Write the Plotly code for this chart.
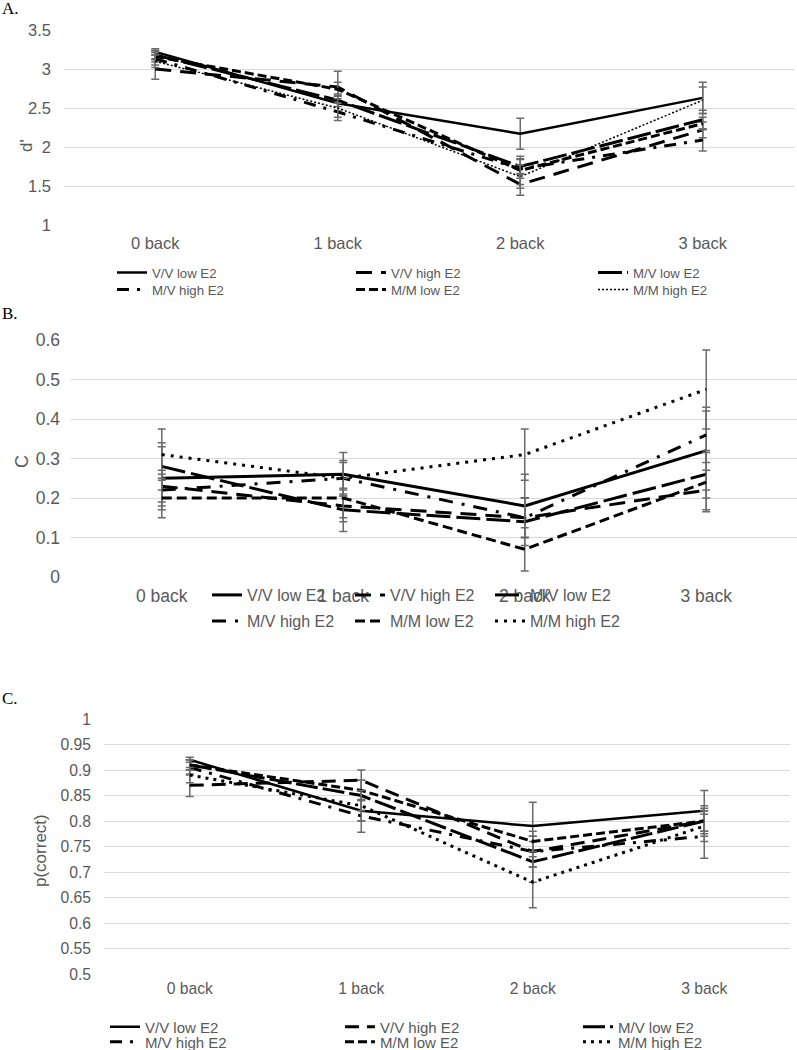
import plotly.graph_objects as go

categories = ["0 back", "1 back", "2 back", "3 back"]
series_names = ["V/V low E2", "V/V high E2", "M/V low E2",
                "M/V high E2", "M/M low E2", "M/M high E2"]

# Panel A: d'
dp_vv_low = [3.22, 2.56, 2.17, 2.63]
dp_vv_high = [3.00, 2.77, 1.52, 2.22]
dp_mv_low = [3.18, 2.60, 1.75, 2.35]
dp_mv_high = [3.13, 2.45, 1.72, 2.09]
dp_mm_low = [3.16, 2.74, 1.70, 2.30]
dp_mm_high = [3.10, 2.50, 1.62, 2.60]
dp_err_vv_low = [0.04, 0.10, 0.20, 0.20]
dp_err_vv_high = [0.13, 0.20, 0.14, 0.10]
dp_err_mv_low = [0.06, 0.08, 0.10, 0.12]
dp_err_mv_high = [0.08, 0.11, 0.12, 0.14]
dp_err_mm_low = [0.07, 0.09, 0.18, 0.08]
dp_err_mm_high = [0.08, 0.12, 0.15, 0.17]

# Panel B: C
c_vv_low = [0.25, 0.26, 0.18, 0.32]
c_vv_high = [0.23, 0.18, 0.15, 0.22]
c_mv_low = [0.28, 0.17, 0.14, 0.26]
c_mv_high = [0.22, 0.25, 0.15, 0.36]
c_mm_low = [0.20, 0.20, 0.07, 0.24]
c_mm_high = [0.31, 0.25, 0.31, 0.475]
c_err_vv_low = [0.08, 0.055, 0.08, 0.10]
c_err_vv_high = [0.04, 0.04, 0.05, 0.05]
c_err_mv_low = [0.06, 0.055, 0.06, 0.06]
c_err_mv_high = [0.04, 0.04, 0.05, 0.07]
c_err_mm_low = [0.05, 0.05, 0.055, 0.075]
c_err_mm_high = [0.065, 0.045, 0.065, 0.10]

# Panel C: p(correct)
p_vv_low = [0.92, 0.82, 0.79, 0.82]
p_vv_high = [0.87, 0.88, 0.74, 0.80]
p_mv_low = [0.91, 0.85, 0.72, 0.80]
p_mv_high = [0.905, 0.81, 0.74, 0.77]
p_mm_low = [0.91, 0.86, 0.76, 0.80]
p_mm_high = [0.89, 0.83, 0.68, 0.79]
p_err_vv_low = [0.005, 0.02, 0.047, 0.04]
p_err_vv_high = [0.022, 0.02, 0.03, 0.03]
p_err_mv_low = [0.01, 0.03, 0.04, 0.025]
p_err_mv_high = [0.015, 0.032, 0.03, 0.043]
p_err_mm_low = [0.01, 0.02, 0.02, 0.02]
p_err_mm_high = [0.015, 0.03, 0.05, 0.03]

panels = [
    dict(vals=[dp_vv_low, dp_vv_high, dp_mv_low, dp_mv_high, dp_mm_low, dp_mm_high],
         errs=[dp_err_vv_low, dp_err_vv_high, dp_err_mv_low, dp_err_mv_high, dp_err_mm_low, dp_err_mm_high]),
    dict(vals=[c_vv_low, c_vv_high, c_mv_low, c_mv_high, c_mm_low, c_mm_high],
         errs=[c_err_vv_low, c_err_vv_high, c_err_mv_low, c_err_mv_high, c_err_mm_low, c_err_mm_high]),
    dict(vals=[p_vv_low, p_vv_high, p_mv_low, p_mv_high, p_mm_low, p_mm_high],
         errs=[p_err_vv_low, p_err_vv_high, p_err_mv_low, p_err_mv_high, p_err_mm_low, p_err_mm_high]),
]

# line styles per panel (width, dash)
styles = [
    [(2.5, "solid"), (3, "16px,9px"), (3, "24px,5px"), (3, "12px,8px,3px,8px"), (3, "9px,4px"), (1.5, "2px,2px")],
    [(3, "solid"), (3, "16px,9px"), (3, "24px,6px"), (3, "14px,9px,3px,9px"), (3, "10px,5px"), (3, "3px,6px")],
    [(2.5, "solid"), (3, "14px,8px"), (3, "22px,5px"), (3, "12px,8px,3px,8px"), (3, "9px,4px"), (3, "3px,5px")],
]

W, H = 797, 1050
def px_x(v):
    return v / W
def px_y(v):
    return 1 - v / H

# plot areas in pixels: (left, right, top, bottom)
areas = [(64, 794, 30, 225), (71, 797, 340, 577), (104, 790, 719, 974)]
yranges = [[1, 3.5], [0, 0.6], [0.5, 1.0]]
ydticks = [0.5, 0.1, 0.05]
tick_sizes = [16.5, 17.5, 15.7]
ystandoff = [12, 10, 12]
xstandoff = [6, 6, 3]
legend_font = [13.2, 16, 15]
# legend layout: text left edge (px) per column, centre of each of the two rows
legend_cols = [[152, 391, 633], [247, 390, 530], [145, 380, 618]]
legend_rows = [[273, 290], [595, 621], [1027, 1042]]

font_family = "Liberation Sans, Arial, sans-serif"
grey = "#595959"

fig = go.Figure()
for p, panel in enumerate(panels):
    xa = "x" if p == 0 else f"x{p+1}"
    ya = "y" if p == 0 else f"y{p+1}"
    for s, name in enumerate(series_names):
        w, d = styles[p][s]
        li = p * 6 + s + 1
        lg = "legend" if li == 1 else f"legend{li}"
        fig.add_trace(go.Scatter(
            x=categories, y=panel["vals"][s], name=name, mode="lines",
            line=dict(color="black", width=w, dash=d),
            error_y=dict(type="data", array=panel["errs"][s], visible=True,
                         color="#6b6b6b", thickness=1.5, width=4),
            xaxis=xa, yaxis=ya, legend=lg,
        ))

layout = dict(width=W, height=H, margin=dict(l=0, r=0, t=0, b=0, autoexpand=False),
              paper_bgcolor="white", plot_bgcolor="white", showlegend=True,
              font=dict(family=font_family, color=grey))

for p in range(3):
    l, r, t, b = areas[p]
    sfx = "" if p == 0 else str(p + 1)
    layout["xaxis" + sfx] = dict(
        domain=[px_x(l), px_x(r)], anchor="y" + sfx, type="category",
        range=[-0.5, 3.5], showgrid=False, showline=False, zeroline=False,
        ticks="", tickfont=dict(size=tick_sizes[p], color=grey, family=font_family),
        ticklabelstandoff=xstandoff[p], fixedrange=True, automargin=False)
    layout["yaxis" + sfx] = dict(
        domain=[px_y(b), px_y(t)], anchor="x" + sfx, range=yranges[p],
        tick0=yranges[p][0], dtick=ydticks[p], showgrid=True, gridcolor="#d9d9d9",
        gridwidth=1, zeroline=False, showline=False, ticks="",
        tickfont=dict(size=tick_sizes[p], color=grey, family=font_family),
        ticklabelstandoff=ystandoff[p], fixedrange=True, automargin=False)
    for s in range(6):
        li = p * 6 + s + 1
        key = "legend" if li == 1 else f"legend{li}"
        layout[key] = dict(
            orientation="v", x=px_x(legend_cols[p][s % 3] - 40),
            y=px_y(legend_rows[p][s // 3]),
            xanchor="left", yanchor="middle", xref="paper", yref="paper",
            bgcolor="rgba(0,0,0,0)", borderwidth=0,
            font=dict(size=legend_font[p], color=grey, family=font_family))

annotations = [
    dict(text="A.", x=px_x(0), y=px_y(8), xanchor="left", yanchor="middle",
         font=dict(family="Liberation Serif, Times New Roman, serif", size=17, color="black")),
    dict(text="B.", x=px_x(0), y=px_y(314), xanchor="left", yanchor="middle",
         font=dict(family="Liberation Serif, Times New Roman, serif", size=17, color="black")),
    dict(text="C.", x=px_x(0), y=px_y(698), xanchor="left", yanchor="middle",
         font=dict(family="Liberation Serif, Times New Roman, serif", size=17, color="black")),
    dict(text="d'", x=px_x(26), y=px_y(146), textangle=-90, xanchor="center", yanchor="middle",
         font=dict(family=font_family, size=17, color=grey)),
    dict(text="C", x=px_x(22), y=px_y(462), textangle=-90, xanchor="center", yanchor="middle",
         font=dict(family=font_family, size=18, color=grey)),
    dict(text="p(correct)", x=px_x(40), y=px_y(851), textangle=-90, xanchor="center", yanchor="middle",
         font=dict(family=font_family, size=17, color=grey)),
]
for a in annotations:
    a.update(xref="paper", yref="paper", showarrow=False)
layout["annotations"] = annotations

fig.update_layout(**layout)
fig.write_html("out.html", config={"displayModeBar": False},
               post_script="document.body.style.margin='0';document.body.style.padding='0';")
